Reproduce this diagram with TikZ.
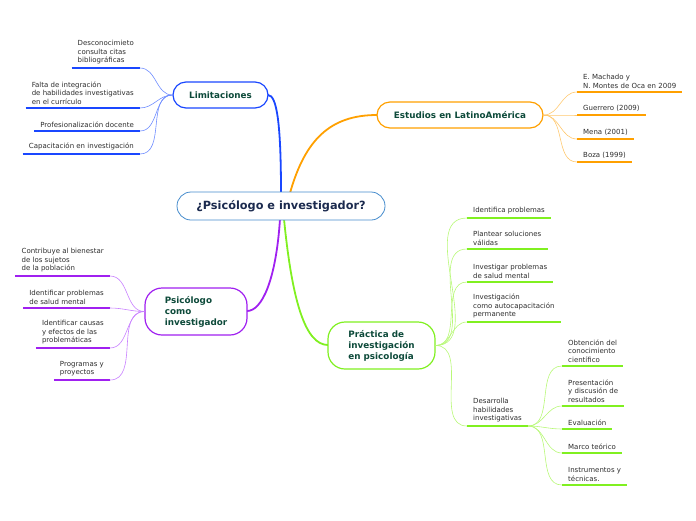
\documentclass[tikz,border=0pt]{standalone}
\usepackage{fontspec}
\setmainfont{DejaVu Sans}
\definecolor{rootline}{RGB}{70,140,205}
\definecolor{roottext}{RGB}{27,42,78}
\definecolor{topictext}{RGB}{13,74,58}
\definecolor{leaftext}{RGB}{45,45,45}
\definecolor{limblue}{RGB}{26,71,255}
\definecolor{limlight}{RGB}{110,140,255}
\definecolor{estorange}{RGB}{255,160,0}
\definecolor{estlight}{RGB}{255,200,110}
\definecolor{psipurple}{RGB}{160,32,240}
\definecolor{psilight}{RGB}{200,128,255}
\definecolor{pragreen}{RGB}{128,240,32}
\definecolor{pralight}{RGB}{184,248,120}

\begin{document}
\begin{tikzpicture}[x=1pt, y=-1pt, font=\fontsize{7}{8.5}\selectfont]
\tikzset{
  rootbox/.style={rectangle, draw=rootline, line width=0.8pt, rounded corners=14pt, fill=white, minimum width=208pt, minimum height=28pt, text=roottext, font=\fontsize{11.3}{13}\selectfont\bfseries},
  topic/.style={rectangle, draw=#1, line width=1.2pt, rounded corners=13pt, fill=white, text=topictext, align=left, font=\fontsize{8.8}{11}\selectfont\bfseries},
  leaf/.style={align=left, text=leaftext, inner xsep=6pt, inner ysep=3.5pt, append after command={(\tikzlastnode.south west) edge[draw=#1, line width=2pt] (\tikzlastnode.south east)}},
  branch/.style={draw=#1, line width=1.8pt, line cap=round},
  twig/.style={draw=#1, line width=0.6pt},
}
\useasboundingbox (0,0) rectangle (696,520);
\draw[branch=limblue] (281,193) .. controls (281,125) and (277,95) .. (268,95);
\draw[branch=estorange] (290,193) .. controls (305,140) and (330,115) .. (377,115);
\draw[branch=psipurple] (280,219) .. controls (276,280) and (262,311) .. (247,311);
\draw[branch=pragreen] (284,219) .. controls (292,300) and (305,345) .. (328,345);
\node[rootbox] (root) at (281,206) {¿Psicólogo e investigador?};
\node[topic=limblue, minimum width=95pt, minimum height=26pt] (lim) at (220.5,95) {Limitaciones};
\node[topic=estorange, minimum width=166pt, minimum height=26pt] (est) at (460,115) {Estudios en LatinoAmérica};
\node[topic=psipurple, minimum width=102pt, minimum height=47pt, rounded corners=17pt] (psi) at (196,311.5) {Psicólogo\\como\\investigador};
\node[topic=pragreen, minimum width=107pt, minimum height=47pt, rounded corners=17pt] (pra) at (381.5,345.5) {Práctica de\\investigación\\en psicología};
\node[leaf=limblue, anchor=south east] (lim1) at (140,68) {Desconocimieto\\consulta citas\\bibliográficas};
\node[leaf=limblue, anchor=south east] (lim2) at (140,108) {Falta de integración\\de habilidades investigativas\\en el currículo};
\node[leaf=limblue, anchor=south east] (lim3) at (140,131) {Profesionalización docente};
\node[leaf=limblue, anchor=south east] (lim4) at (140,154) {Capacitación en investigación};
\node[leaf=estorange, anchor=south west] (est1) at (577,92) {E. Machado y\\N. Montes de Oca en 2009};
\node[leaf=estorange, anchor=south west] (est2) at (577,115) {Guerrero (2009)};
\node[leaf=estorange, anchor=south west] (est3) at (577,139) {Mena (2001)};
\node[leaf=estorange, anchor=south west] (est4) at (577,162) {Boza (1999)};
\node[leaf=psipurple, anchor=south east] (psi1) at (110,276) {Contribuye al bienestar\\de los sujetos\\de la población};
\node[leaf=psipurple, anchor=south east] (psi2) at (110,308) {Identificar problemas\\de salud mental};
\node[leaf=psipurple, anchor=south east] (psi3) at (110,348) {Identificar causas\\y efectos de las\\problemáticas};
\node[leaf=psipurple, anchor=south east] (psi4) at (110,380) {Programas y\\proyectos};
\node[leaf=pragreen, anchor=south west] (pra1) at (467,218) {Identifica problemas};
\node[leaf=pragreen, anchor=south west] (pra2) at (467,249) {Plantear soluciones\\válidas};
\node[leaf=pragreen, anchor=south west] (pra3) at (467,282) {Investigar problemas\\de salud mental};
\node[leaf=pragreen, anchor=south west] (pra4) at (467,322) {Investigación\\como autocapacitación\\permanente};
\node[leaf=pragreen, anchor=south west] (pra5) at (467,426) {Desarrolla\\habilidades\\investigativas};
\node[leaf=pragreen, anchor=south west] (des1) at (562,366) {Obtención del\\conocimiento\\científico};
\node[leaf=pragreen, anchor=south west] (des2) at (562,406) {Presentación\\y discusión de\\resultados};
\node[leaf=pragreen, anchor=south west] (des3) at (562,429) {Evaluación};
\node[leaf=pragreen, anchor=south west] (des4) at (562,453) {Marco teórico};
\node[leaf=pragreen, anchor=south west] (des5) at (562,485) {Instrumentos y\\técnicas.};
\draw[twig=limlight] (lim.west) to[out=180, in=0] (lim1.south east);
\draw[twig=limlight] (lim.west) to[out=180, in=0] (lim2.south east);
\draw[twig=limlight] (lim.west) to[out=180, in=0] (lim3.south east);
\draw[twig=limlight] (lim.west) to[out=180, in=0] (lim4.south east);
\draw[twig=estlight] (est.east) to[out=0, in=180] (est1.south west);
\draw[twig=estlight] (est.east) to[out=0, in=180] (est2.south west);
\draw[twig=estlight] (est.east) to[out=0, in=180] (est3.south west);
\draw[twig=estlight] (est.east) to[out=0, in=180] (est4.south west);
\draw[twig=psilight] (psi.west) to[out=180, in=0] (psi1.south east);
\draw[twig=psilight] (psi.west) to[out=180, in=0] (psi2.south east);
\draw[twig=psilight] (psi.west) to[out=180, in=0] (psi3.south east);
\draw[twig=psilight] (psi.west) to[out=180, in=0] (psi4.south east);
\draw[twig=pralight] (pra.east) to[out=0, in=180] (pra1.south west);
\draw[twig=pralight] (pra.east) to[out=0, in=180] (pra2.south west);
\draw[twig=pralight] (pra.east) to[out=0, in=180] (pra3.south west);
\draw[twig=pralight] (pra.east) to[out=0, in=180] (pra4.south west);
\draw[twig=pralight] (pra.east) to[out=0, in=180] (pra5.south west);
\draw[twig=pralight] (pra5.south east) to[out=0, in=180] (des1.south west);
\draw[twig=pralight] (pra5.south east) to[out=0, in=180] (des2.south west);
\draw[twig=pralight] (pra5.south east) to[out=0, in=180] (des3.south west);
\draw[twig=pralight] (pra5.south east) to[out=0, in=180] (des4.south west);
\draw[twig=pralight] (pra5.south east) to[out=0, in=180] (des5.south west);
\end{tikzpicture}
\end{document}
